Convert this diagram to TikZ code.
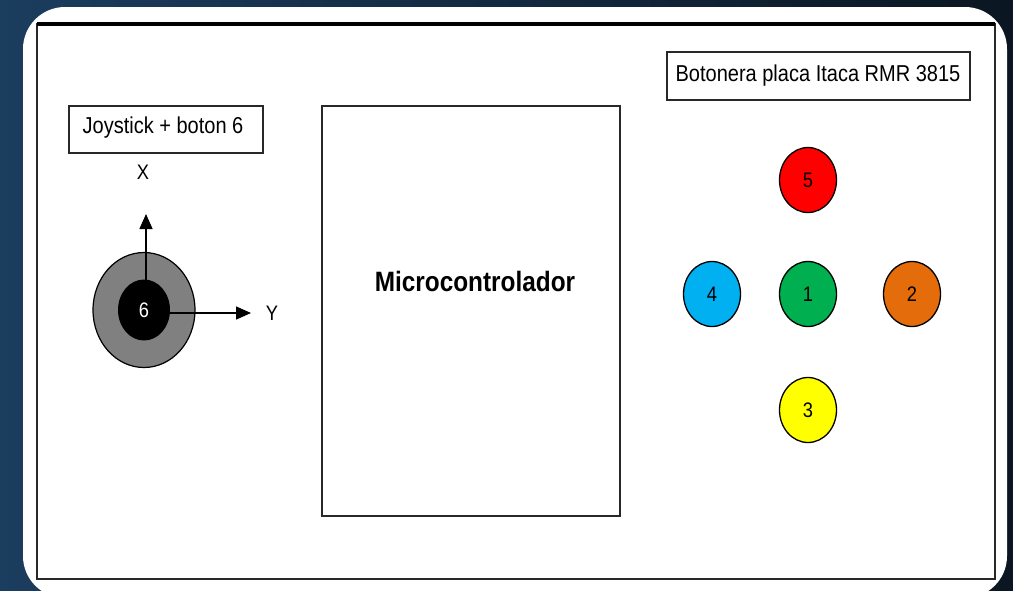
\documentclass[tikz,border=0pt]{standalone}
\usepackage{graphicx}
\usepackage{fontspec}
\setmainfont{Liberation Sans}
\usetikzlibrary{shapes.geometric,arrows.meta}
\definecolor{bgL}{RGB}{27,61,94}
\definecolor{bgR}{RGB}{11,22,34}
\definecolor{frameC}{RGB}{40,40,40}
\definecolor{btnred}{RGB}{255,0,0}
\definecolor{btnblue}{RGB}{0,176,240}
\definecolor{btngreen}{RGB}{0,176,80}
\definecolor{btnorange}{RGB}{228,108,10}
\definecolor{btnyellow}{RGB}{255,255,0}
\definecolor{joygray}{RGB}{128,128,128}
\newcommand{\hsq}[1]{\scalebox{0.87}[1]{#1}}
\tikzset{
  labelbox/.style={draw=frameC, line width=1.3pt, fill=white, inner sep=0pt},
  btn/.style={ellipse, draw=black, line width=1.3pt, inner sep=0pt, minimum width=57pt, minimum height=65pt, font=\fontsize{21}{21}\selectfont},
  axislbl/.style={font=\fontsize{21}{21}\selectfont, inner sep=0pt},
  axisarrow/.style={line width=1.4pt, -{Triangle[length=15pt,width=13pt]}},
}
\begin{document}
\begin{tikzpicture}[x=1pt,y=-1pt]
\useasboundingbox (0,0) rectangle (1013,590);
% background
\shade[left color=bgL, right color=bgR] (0,0) rectangle (1013,590);
% white card
\fill[white, rounded corners=42pt] (23,7) rectangle (1007,598);
% inner frame
\draw[frameC, line width=1.5pt] (37,24) rectangle (995,579);
\draw[black, line width=3.5pt] (37,24) -- (995,24);

% joystick label
\node[labelbox, minimum width=194pt, minimum height=47pt] (joybox) at (166,129.5) {};
\node[font=\fontsize{23}{23}\selectfont, inner sep=0pt] (joytxt) at (163,128) {\hsq{Joystick + boton 6}};
\node[axislbl] (xl) at (143,172) {\hsq{X}};
\node[axislbl] (yl) at (272,313) {\hsq{Y}};

% joystick
\node[ellipse, draw=black, line width=1.2pt, fill=joygray, minimum width=102pt, minimum height=115pt, inner sep=0pt] (jout) at (144,310) {};
\node[ellipse, fill=black, minimum width=52pt, minimum height=61pt, inner sep=0pt, text=white, font=\fontsize{21}{21}\selectfont] (jin) at (144,310) {\hsq{6}};
\coordinate (xtip) at (146,214);
\coordinate (ytip) at (251,313);
\coordinate (jc1) at (146,300);
\coordinate (jc2) at (165,313);
\draw[axisarrow] (jc1) -- (xtip);
\draw[axisarrow] (jc2) -- (ytip);

% microcontroller
\node[draw=frameC, line width=1.3pt, minimum width=298pt, minimum height=410pt, inner sep=0pt] (mcu) at (471,311) {};
\node[font=\bfseries\fontsize{28}{28}\selectfont, inner sep=0pt] (mcutxt) at (475,281) {\hsq{Microcontrolador}};

% botonera
\node[labelbox, minimum width=303pt, minimum height=48pt] (botbox) at (818.5,76) {};
\node[font=\fontsize{23}{23}\selectfont, inner sep=0pt] (bottxt) at (818,76) {\hsq{Botonera placa Itaca RMR 3815}};

\node[btn, fill=btnred] (b5) at (808,180) {\hsq{5}};
\node[btn, fill=btnblue] (b4) at (712,294) {\hsq{4}};
\node[btn, fill=btngreen] (b1) at (808,294) {\hsq{1}};
\node[btn, fill=btnorange] (b2) at (912,294) {\hsq{2}};
\node[btn, fill=btnyellow] (b3) at (808,410) {\hsq{3}};
\end{tikzpicture}
\end{document}
